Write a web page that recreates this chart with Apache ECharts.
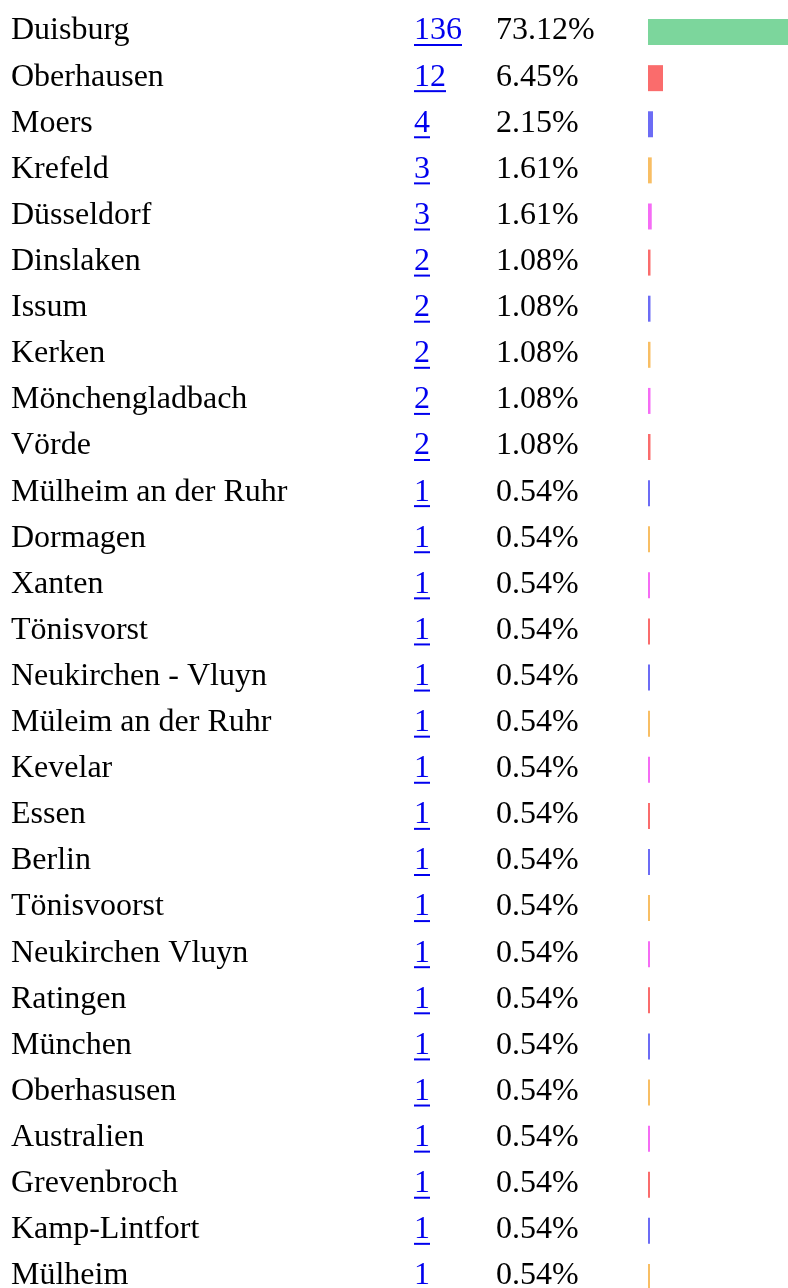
<!DOCTYPE html>
<html>
<head>
<meta charset="utf-8">
<script src="https://cdn.jsdelivr.net/npm/echarts@6/dist/echarts.min.js"></script>
<style>
  html, body { margin: 0; padding: 0; background: #fff; }
  #chart { width: 788px; height: 1288px; }
</style>
</head>
<body>
<div id="chart"></div>
<script>
// Orte und Anzahl
var cities = ['Duisburg', 'Oberhausen', 'Moers', 'Krefeld', 'Düsseldorf', 'Dinslaken', 'Issum', 'Kerken',
  'Mönchengladbach', 'Vörde', 'Mülheim an der Ruhr', 'Dormagen', 'Xanten', 'Tönisvorst', 'Neukirchen - Vluyn',
  'Müleim an der Ruhr', 'Kevelar', 'Essen', 'Berlin', 'Tönisvoorst', 'Neukirchen Vluyn', 'Ratingen', 'München',
  'Oberhasusen', 'Australien', 'Grevenbroch', 'Kamp-Lintfort', 'Mülheim'];
var counts = [136, 12, 4, 3, 3, 2, 2, 2, 2, 2, 1, 1, 1, 1, 1, 1, 1, 1, 1, 1, 1, 1, 1, 1, 1, 1, 1, 1];
var shares = ['73.12%', '6.45%', '2.15%', '1.61%', '1.61%', '1.08%', '1.08%', '1.08%', '1.08%', '1.08%',
  '0.54%', '0.54%', '0.54%', '0.54%', '0.54%', '0.54%', '0.54%', '0.54%', '0.54%', '0.54%', '0.54%',
  '0.54%', '0.54%', '0.54%', '0.54%', '0.54%', '0.54%', '0.54%'];

var first = '#7cd69c';
var cycle = ['#fa6c6c', '#6c6cf5', '#f8be64', '#f56cf5'];
var FONT = '"Liberation Serif", "Times New Roman", serif';
var SIZE = 32;

var measure = document.createElement('canvas').getContext('2d');
measure.font = SIZE + 'px ' + FONT;

var chart = echarts.init(document.getElementById('chart'));

var option = {
  animation: false,
  // gitter geht unten und rechts über den rand hinaus
  grid: { left: 648, top: 9, width: 170, height: 1291, outerBoundsMode: 'none' },
  xAxis: { type: 'value', min: 0, max: 136, show: false },
  yAxis: { type: 'category', data: cities, inverse: true, show: false },
  series: [
    {
      type: 'bar',
      barWidth: 26,
      barMinHeight: 2,
      data: counts.map(function (v, i) {
        return { value: v, itemStyle: { color: i === 0 ? first : cycle[(i - 1) % 4] } };
      })
    },
    {
      type: 'custom',
      clip: false,
      data: cities.map(function (c, i) { return [0, i]; }),
      encode: { x: 0, y: 1 },
      renderItem: function (params, api) {
        var i = api.value(1);
        var y = api.coord([0, i])[1] - 1;
        var num = String(counts[i]);
        var w = measure.measureText(num).width;
        var font = SIZE + 'px ' + FONT;
        return {
          type: 'group',
          children: [
            { type: 'text', style: { x: 11, y: y, text: cities[i], font: font, fill: '#000', verticalAlign: 'middle' } },
            { type: 'text', style: { x: 414, y: y, text: num, font: font, fill: '#0000ee', verticalAlign: 'middle' } },
            { type: 'rect', shape: { x: 414, y: y + 13, width: w, height: 2 }, style: { fill: '#0000ee' } },
            { type: 'text', style: { x: 496, y: y, text: shares[i], font: font, fill: '#000', verticalAlign: 'middle' } }
          ]
        };
      }
    }
  ]
};

chart.setOption(option);
</script>
</body>
</html>
